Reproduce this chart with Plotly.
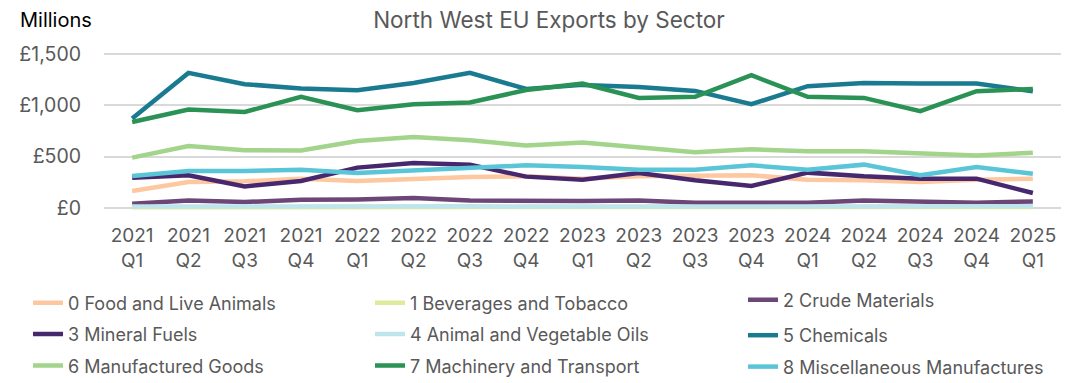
import plotly.graph_objects as go

# Quarter labels (two-line ticks)
quarters = [
    "2021<br>Q1", "2021<br>Q2", "2021<br>Q3", "2021<br>Q4",
    "2022<br>Q1", "2022<br>Q2", "2022<br>Q3", "2022<br>Q4",
    "2023<br>Q1", "2023<br>Q2", "2023<br>Q3", "2023<br>Q4",
    "2024<br>Q1", "2024<br>Q2", "2024<br>Q3", "2024<br>Q4",
    "2025<br>Q1",
]

# Export values by sector, £ millions
food = [165, 252, 259, 285, 262, 285, 301, 308, 285, 308, 308, 318, 275, 269, 252, 275, 285]
beverages = [6, 8, 7, 8, 8, 9, 8, 8, 8, 8, 7, 7, 7, 8, 7, 7, 8]
crude = [41, 73, 57, 80, 83, 96, 73, 67, 67, 73, 50, 50, 50, 73, 63, 50, 63]
fuels = [295, 318, 210, 262, 393, 438, 422, 305, 275, 340, 269, 213, 344, 308, 285, 285, 145]
oils = [14, 16, 13, 15, 15, 16, 15, 14, 14, 15, 14, 14, 15, 16, 15, 14, 15]
chemicals = [871, 1317, 1207, 1165, 1148, 1219, 1317, 1160, 1200, 1180, 1141, 1011, 1187, 1219, 1213, 1213, 1138]
manufactured = [490, 604, 562, 559, 653, 692, 659, 608, 637, 584, 542, 571, 552, 552, 529, 510, 539]
machinery = [838, 959, 936, 1083, 953, 1011, 1028, 1150, 1213, 1073, 1083, 1294, 1083, 1073, 943, 1138, 1160]
misc = [311, 360, 360, 373, 340, 366, 389, 415, 399, 373, 373, 415, 373, 422, 318, 399, 334]

# Y-axis ticks
y_tickvals = [0, 500, 1000, 1500]
y_ticktext = ["£0", "£500", "£1,000", "£1,500"]

sector_names = [
    "0 Food and Live Animals", "1 Beverages and Tobacco", "2 Crude Materials",
    "3 Mineral Fuels", "4 Animal and Vegetable Oils", "5 Chemicals",
    "6 Manufactured Goods", "7 Machinery and Transport", "8 Miscellaneous Manufactures",
]
sector_values = [food, beverages, crude, fuels, oils, chemicals, manufactured, machinery, misc]
sector_colors = [
    "#fdc89f", "#dfea9b", "#6c4677", "#47286e", "#bfe5ec",
    "#1a7a90", "#a2d48c", "#2a9255", "#5bc5d8",
]
# legend boxes: three columns, the top-right entry sits a little higher
legend_ids = ["legend", "legend2", "legend4", "legend", "legend2", "legend3",
              "legend", "legend2", "legend3"]

FONT = "Inter, Noto Sans, sans-serif"
GREY = "#595959"

fig = go.Figure()
for i, (name, vals, col) in enumerate(zip(sector_names, sector_values, sector_colors)):
    fig.add_trace(go.Scatter(
        x=list(range(len(quarters))),
        y=vals,
        name=name,
        mode="lines",
        line=dict(color=col, width=4.5),
        legend=legend_ids[i],
        legendgroup=f"g{i}",
        hoverinfo="skip",
    ))

W, H = 1065, 383

def legend_cfg(px, py):
    return dict(
        xref="container", yref="container",
        x=px / W, y=1 - py / H, xanchor="left", yanchor="top",
        orientation="v", tracegroupgap=5,
        font=dict(family=FONT, size=18, color=GREY),
        bgcolor="rgba(0,0,0,0)", borderwidth=0,
        itemclick=False, itemdoubleclick=False,
    )

fig.update_layout(
    width=W, height=H,
    margin=dict(l=104, r=4, t=49, b=171, autoexpand=False),
    paper_bgcolor="white", plot_bgcolor="white",
    font=dict(family=FONT, color=GREY),
    title=dict(
        text="North West EU Exports by Sector",
        x=549 / W, xref="container", xanchor="center",
        y=1 - 20 / H, yref="container", yanchor="middle",
        font=dict(family=FONT, size=22.5, color=GREY),
    ),
    showlegend=True,
    legend=legend_cfg(28, 284.5),
    legend2=legend_cfg(370, 284.5),
    legend3=legend_cfg(743, 317),
    legend4=legend_cfg(743, 281.5),
    xaxis=dict(
        tickmode="array",
        tickvals=list(range(len(quarters))),
        ticktext=quarters,
        range=[-0.5, len(quarters) - 0.5],
        showgrid=False, zeroline=False, showline=False,
        ticks="", ticklabelstandoff=10,
        tickfont=dict(family=FONT, size=19, color=GREY),
    ),
    yaxis=dict(
        range=[-40, 1550],
        tickmode="array", tickvals=y_tickvals, ticktext=y_ticktext,
        showgrid=True, gridcolor="#d9d9d9", gridwidth=1.5,
        zeroline=False, showline=False, ticks="",
        ticklabelstandoff=22,
        tickfont=dict(family=FONT, size=19.5, color=GREY),
    ),
    annotations=[dict(
        text="Millions", xref="paper", yref="paper",
        x=(18 - 104) / 957, y=(211.6 - 20) / 162.7,
        xanchor="left", yanchor="middle", showarrow=False,
        font=dict(family=FONT, size=20, color="#000000"),
    )],
)

fig.write_html("out.html")
